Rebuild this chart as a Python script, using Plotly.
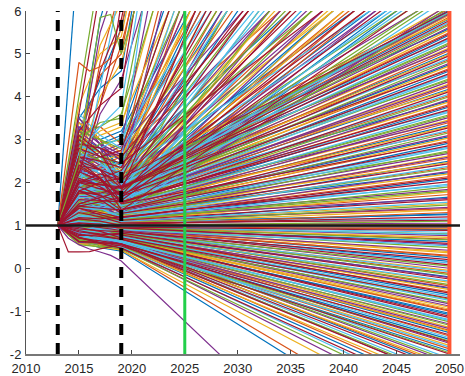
import plotly.graph_objects as go

# ---------------- data ----------------
years_main = [2013, 2015, 2017, 2019, 2050]

# group falling below -2 before 2050
fall_2015 = [0.62,0.70,0.58,0.75,0.66,0.80,0.72,0.60,0.78,0.68, 0.82,0.74,0.85,0.70,0.88,0.79,0.65,0.90,0.76,0.84]
fall_2017 = [0.48,0.55,0.50,0.60,0.52,0.62,0.58,0.55,0.66,0.60, 0.70,0.62,0.72,0.64,0.75,0.68,0.58,0.78,0.70,0.72]
fall_2019 = [0.40,0.43,0.42,0.48,0.45,0.50,0.47,0.52,0.55,0.50, 0.58,0.54,0.60,0.57,0.62,0.60,0.56,0.64,0.62,0.66]
fall_2050 = [-4.4,-4.1,-3.6,-3.4,-3.2,-3.1,-3.0,-2.9,-2.8,-2.7, -2.6,-2.55,-2.5,-2.4,-2.35,-2.3,-2.25,-2.2,-2.15,-2.1]

# group ending between -2 and 1 in 2050
low_2015 = [0.72,0.65,0.80,0.58,0.75,0.68,0.85,0.62,0.78,0.70,
            0.82,0.66,0.88,0.74,0.79,0.92,0.71,0.84,0.77,0.90,
            0.86,0.95,0.80,0.88,0.93,0.83,0.97,0.89,0.76,0.94,
            0.91,1.05,0.87,0.96,1.10,0.92,0.99,0.85,1.02,0.95,
            1.08,0.93,1.00,1.15,0.96,1.04,0.90,1.12,0.98,1.06,
            1.10,0.95,1.20,1.02,0.92,1.08,1.15,0.97,1.05,1.25]
low_2017 = [0.60,0.55,0.68,0.57,0.66,0.58,0.72,0.60,0.70,0.64,
            0.72,0.63,0.78,0.68,0.74,0.80,0.69,0.76,0.73,0.82,
            0.80,0.86,0.75,0.82,0.85,0.80,0.90,0.84,0.78,0.88,
            0.87,0.97,0.84,0.90,1.02,0.88,0.95,0.86,0.98,0.92,
            1.02,0.92,0.98,1.08,0.95,1.00,0.93,1.06,0.97,1.03,
            1.05,0.96,1.12,1.00,0.94,1.06,1.10,0.98,1.04,1.18]
low_2019 = [0.52,0.48,0.55,0.53,0.58,0.51,0.60,0.56,0.62,0.57,
            0.63,0.60,0.66,0.62,0.68,0.65,0.70,0.66,0.72,0.69,
            0.74,0.71,0.77,0.73,0.78,0.76,0.80,0.77,0.82,0.79,
            0.84,0.81,0.86,0.83,0.88,0.85,0.90,0.87,0.91,0.89,
            0.93,0.90,0.94,0.92,0.96,0.93,0.97,0.95,0.98,0.96,
            0.99,0.97,1.00,0.98,1.01,0.99,1.00,1.02,0.98,1.03]
low_2050 = [-2.0,-1.93,-1.88,-1.8,-1.75,-1.7,-1.62,-1.55,-1.5,-1.45,
            -1.38,-1.3,-1.25,-1.2,-1.12,-1.05,-1.0,-0.95,-0.88,-0.8,
            -0.75,-0.7,-0.62,-0.55,-0.5,-0.45,-0.38,-0.3,-0.25,-0.2,
            -0.12,-0.05,0.0,0.05,0.12,0.2,0.25,0.3,0.36,0.42,
            0.48,0.52,0.58,0.62,0.68,0.72,0.76,0.8,0.84,0.88,
            0.9,0.92,0.94,0.96,0.97,0.98,0.99,1.0,1.01,1.02]

# second batch ending between -2 and 1
low2_2015 = [0.55,0.78,0.63,0.90,0.70,0.83,0.60,0.95,0.74,0.88,
             0.65,1.00,0.80,0.92,0.70,1.05,0.85,0.78,1.10,0.90,
             0.82,1.12,0.95,1.00,0.88,1.15,1.02,0.93,1.18,1.08]
low2_2017 = [0.50,0.66,0.60,0.75,0.65,0.72,0.58,0.82,0.70,0.78,
             0.64,0.86,0.74,0.82,0.73,0.90,0.80,0.76,0.95,0.85,
             0.80,0.98,0.90,0.95,0.88,1.02,0.98,0.94,1.08,1.02]
low2_2019 = [0.50,0.54,0.57,0.55,0.60,0.61,0.58,0.64,0.63,0.67,
             0.66,0.70,0.68,0.72,0.75,0.73,0.78,0.76,0.81,0.80,
             0.83,0.85,0.84,0.88,0.87,0.90,0.92,0.94,0.95,0.97]
low2_2050 = [-1.97,-1.84,-1.72,-1.66,-1.58,-1.47,-1.41,-1.33,-1.22,-1.15,
             -1.08,-0.98,-0.91,-0.83,-0.72,-0.66,-0.58,-0.47,-0.41,-0.33,
             -0.22,-0.15,-0.08,0.08,0.16,0.28,0.39,0.55,0.66,0.79]

# group ending between 1 and 6 in 2050
mid_2015 = [1.10,0.95,1.20,1.05,1.30,1.00,1.15,1.35,1.08,1.25,
            1.40,1.10,1.22,1.50,1.15,1.30,1.60,1.18,1.45,1.28,
            1.35,1.70,1.20,1.50,1.80,1.30,1.55,1.40,2.00,1.25,
            1.60,1.45,2.20,1.35,1.75,1.50,1.90,1.40,2.40,1.65,
            1.55,2.10,1.45,1.85,2.50,1.60,1.95,1.50,2.30,1.70,
            2.00,1.60,2.60,1.75,2.20,1.55,2.80,1.90,1.65,2.35,
            1.80,2.50,1.70,2.10,3.00,1.85,2.25,1.60,2.70,1.95,
            2.30,1.75,2.90,2.05,1.90,2.60,1.70,3.20,2.15,1.85,
            2.50,2.00,3.40,1.90,2.20,2.75,1.80,2.40,3.10,2.10]
mid_2017 = [1.05,1.02,1.12,0.98,1.18,1.04,1.10,1.25,1.00,1.15,
            1.25,1.05,1.20,1.35,1.10,1.22,1.40,1.15,1.30,1.24,
            1.30,1.50,1.18,1.40,1.60,1.26,1.45,1.32,1.75,1.22,
            1.50,1.40,1.90,1.35,1.60,1.45,1.70,1.38,2.10,1.55,
            1.48,1.90,1.42,1.70,2.20,1.58,1.80,1.50,2.00,1.62,
            1.80,1.58,2.30,1.70,2.00,1.60,2.50,1.82,1.64,2.10,
            1.75,2.20,1.70,1.95,2.70,1.82,2.05,1.68,2.40,1.90,
            2.10,1.80,2.60,1.95,1.85,2.35,1.76,2.80,2.00,1.90,
            2.30,1.98,3.00,1.95,2.10,2.50,1.90,2.30,2.70,2.15]
mid_2019 = [1.02,0.99,1.05,1.03,1.08,1.01,1.06,1.10,1.04,1.09,
            1.12,1.07,1.14,1.10,1.18,1.11,1.16,1.20,1.13,1.19,
            1.22,1.17,1.25,1.20,1.28,1.22,1.30,1.24,1.34,1.27,
            1.30,1.36,1.28,1.38,1.33,1.42,1.35,1.40,1.37,1.46,
            1.40,1.48,1.43,1.50,1.45,1.55,1.47,1.52,1.58,1.50,
            1.55,1.60,1.52,1.63,1.58,1.66,1.60,1.70,1.62,1.68,
            1.65,1.72,1.67,1.75,1.70,1.78,1.72,1.80,1.74,1.82,
            1.76,1.84,1.78,1.86,1.80,1.90,1.83,1.88,1.85,1.95,
            1.87,1.92,1.90,2.00,1.93,2.05,1.96,2.10,2.00,2.20]
mid_2050 = [1.05,1.1,1.15,1.2,1.25,1.3,1.36,1.42,1.48,1.54,
            1.6,1.66,1.72,1.78,1.84,1.9,1.96,2.02,2.08,2.14,
            2.2,2.26,2.32,2.38,2.44,2.5,2.56,2.62,2.68,2.74,
            2.8,2.86,2.92,2.98,3.04,3.1,3.16,3.22,3.28,3.34,
            3.4,3.46,3.52,3.58,3.64,3.7,3.76,3.82,3.88,3.94,
            4.0,4.06,4.12,4.18,4.24,4.3,4.36,4.42,4.48,4.54,
            4.6,4.66,4.72,4.78,4.84,4.9,4.96,5.02,5.08,5.14,
            5.2,5.26,5.32,5.38,5.44,5.5,5.56,5.62,5.68,5.74,
            5.78,5.82,5.86,5.9,5.93,5.96,5.98,6.0,6.02,6.05]

# second batch ending between 1 and 6
mid2_2015 = [1.3,1.0,1.5,1.2,1.7,1.1,1.9,1.4,2.1,1.3,
             1.6,2.3,1.5,1.8,2.5,1.45,2.0,1.7,2.7,1.6,
             2.2,1.8,2.4,1.5,2.9,1.9,2.6,1.7,3.1,2.1,
             2.4,1.8,3.3,2.2,2.7,2.0,3.5,2.3,2.9,2.6]
mid2_2017 = [1.2,1.02,1.35,1.15,1.5,1.12,1.6,1.3,1.75,1.28,
             1.5,1.95,1.48,1.6,2.1,1.45,1.8,1.6,2.3,1.55,
             1.95,1.7,2.1,1.55,2.5,1.8,2.3,1.7,2.7,1.95,
             2.2,1.8,2.9,2.05,2.45,1.95,3.0,2.15,2.6,2.3]
mid2_2019 = [1.06,1.03,1.12,1.08,1.2,1.14,1.27,1.18,1.32,1.25,
             1.38,1.3,1.44,1.36,1.5,1.4,1.56,1.45,1.6,1.5,
             1.66,1.55,1.72,1.6,1.78,1.65,1.84,1.7,1.9,1.76,
             1.95,1.8,2.02,1.86,2.1,1.9,2.18,1.95,2.25,2.02]
mid2_2050 = [1.12,1.27,1.39,1.51,1.63,1.81,1.93,2.11,2.23,2.35,
             2.47,2.59,2.71,2.83,2.95,3.07,3.19,3.31,3.43,3.55,
             3.67,3.79,3.91,4.03,4.15,4.27,4.39,4.51,4.63,4.75,
             4.87,4.99,5.11,5.23,5.35,5.47,5.59,5.71,5.83,5.95]

# group leaving the top edge between 2019 and 2050
high_2015 = [1.6,2.2,1.4,2.6,1.5,2.9,1.3,2.4,1.8,3.1,
             1.35,2.0,2.8,1.6,2.5,3.3,1.45,2.1,2.9,1.7,
             2.7,3.4,1.5,2.3,3.6,1.8,2.9,3.2,2.0,3.5,
             2.6,1.9,3.0,2.4,2.2,2.8,2.5,3.0,2.7,3.2,
             3.5,3.0,3.8,1.4,1.5,2.0,2.8,1.3,3.2,1.25,
             2.4,1.4,2.6,1.5,3.4,1.7,2.8,1.9,3.1,2.2]
high_2017 = [1.7,2.0,1.55,2.3,1.65,2.5,1.5,2.6,1.85,2.7,
             1.45,2.2,2.6,1.7,2.3,2.9,1.6,2.4,2.8,1.9,
             2.5,3.0,1.7,2.6,3.1,2.0,2.7,3.3,2.1,2.9,
             2.9,2.2,2.6,2.9,2.4,3.1,2.7,3.4,3.3,3.8,
             4.2,4.5,5.0,1.5,1.6,2.1,2.6,1.4,3.0,1.35,
             2.6,1.55,2.8,1.65,3.0,1.8,3.2,2.0,3.3,2.3]
high_2019 = [1.85,1.9,1.75,2.0,1.8,2.1,1.7,2.2,1.95,2.3,
             1.6,2.05,2.4,1.85,2.15,2.5,1.75,2.25,2.6,2.0,
             2.35,2.7,1.9,2.45,2.8,2.1,2.55,2.9,2.25,2.65,
             3.0,2.4,2.75,3.1,2.6,3.3,2.9,3.5,3.8,4.2,
             4.6,5.0,5.4,1.65,1.7,2.25,2.45,1.55,2.7,1.5,
             2.85,1.65,3.05,1.8,3.2,2.0,3.4,2.2,3.6,2.5]
high_2050 = [6.14,6.44,6.82,6.96,7.46,7.6,8.05,8.09,8.56,8.67,
             9.62,9.47,9.38,10.43,10.38,10.25,11.88,11.55,11.38,13.27,
             13.13,12.93,15.28,14.68,14.47,17.21,16.81,16.63,20.13,19.96,
             19.9,24.72,25.14,25.58,32.71,31.2,41.34,42.25,49.27,50.7,
             48.0,43.75,42.6,7.27,6.64,7.2,8.24,8.45,9.52,11.46,
             11.34,15.14,14.48,20.4,16.55,24.55,21.31,33.2,28.4,56.75]

# second batch leaving the top edge
high2_2015 = [1.5,1.2,1.9,1.3,2.1,1.4,1.8,2.4,1.6,2.0,
              1.15,1.7,1.35,2.3,1.55,2.6,1.75,2.2,1.9,2.8,
              1.6,1.25,1.9,1.45,2.5,1.7,2.2,1.8,2.9,2.0,
              2.6,2.3,3.0,2.4,1.4,1.75,1.3,2.1,1.5,2.5,
              1.7,2.7,1.9,2.4,2.0,3.1,2.2,2.8,2.5,3.2]
high2_2017 = [1.35,1.25,1.7,1.35,1.8,1.45,1.7,2.1,1.6,1.85,
              1.2,1.6,1.45,2.0,1.6,2.2,1.75,2.0,1.95,2.5,
              1.5,1.35,1.75,1.55,2.2,1.8,2.1,1.9,2.6,2.1,
              2.5,2.4,2.8,2.5,1.35,1.6,1.4,1.9,1.6,2.2,
              1.8,2.4,2.0,2.3,2.1,2.8,2.3,2.7,2.6,3.0]
high2_2019 = [1.25,1.3,1.35,1.4,1.45,1.5,1.55,1.6,1.65,1.7,
              1.3,1.4,1.5,1.6,1.7,1.8,1.9,2.0,2.1,2.2,
              1.35,1.45,1.55,1.65,1.75,1.85,1.95,2.05,2.15,2.25,
              2.35,2.45,2.55,2.65,1.28,1.38,1.48,1.58,1.68,1.78,
              1.88,1.98,2.08,2.18,2.28,2.38,2.48,2.58,2.68,2.78]
high2_2050 = [6.1,6.32,6.69,7.1,7.58,8.14,8.81,9.18,9.58,10.03,
              6.9,7.88,8.48,10.69,11.22,11.82,12.49,14.4,15.53,16.93,
              7.35,6.49,6.96,7.78,8.34,9.0,9.8,10.8,12.1,13.88,
              15.66,18.17,20.38,23.42,6.16,6.41,6.77,7.17,7.38,7.86,
              8.43,9.1,9.92,10.95,12.31,14.19,17.03,18.89,21.39,24.96]

# group leaving the top edge before 2019
early_2015 = [3.6,2.8,2.2,3.0,2.5,4.0,1.8,2.6,3.2,2.0,2.4,1.9]
early_2017 = [6.5,5.8,4.8,5.2,5.5,7.0,4.2,4.6,4.4,3.8,4.0,3.6]
early_2019 = [8.0,7.5,6.6,6.2,7.0,9.0,6.8,5.8,5.6,5.2,4.8,4.4]
early_2050 = [40,40,40,40,45,50,45,42,38,35,35,30]

# individually traced curves (yearly values)
blue_years = [2013, 2014, 2015]
blue_vals = [1.0, 4.3, 7.7]
orange_years = [2013, 2014, 2015, 2016, 2017, 2018, 2019, 2050]
orange_vals = [1.0, 2.9, 4.8, 4.6, 4.7, 4.9, 5.6, 45.0]
green_years = [2013, 2015, 2016, 2017, 2018, 2019, 2050]
green_vals = [1.0, 2.5, 4.2, 5.85, 5.92, 5.0, 30.0]
purple_years = [2013, 2014, 2015, 2016, 2017, 2018, 2019, 2050]
purple_vals = [1.0, 0.7, 0.55, 0.45, 0.38, 0.3, 0.17, -7.1]
red_years = [2013, 2014, 2015, 2016, 2017, 2018, 2019, 2050]
red_vals = [1.0, 0.38, 0.38, 0.39, 0.45, 0.5, 0.55, -2.6]
darkred_years = [2013, 2015, 2017, 2018.4, 2019.2]
darkred_vals = [1.0, 2.2, 3.8, 5.25, 6.5]

x_ticks = [2010, 2015, 2020, 2025, 2030, 2035, 2040, 2045, 2050]
y_ticks = [-2, -1, 0, 1, 2, 3, 4, 5, 6]
y_tick_text = ['-2', '-1', '0', '1', '2', '3', '4', '5', '6']
marker_years = {'dash1': 2013, 'dash2': 2019, 'green': 2025, 'red': 2050}
baseline = 1

# ---------------- figure ----------------
palette = ['#0072BD', '#D95319', '#EDB120', '#7E2F8E', '#77AC30', '#4DBEEE', '#A2142F']

v15 = fall_2015 + low_2015 + mid_2015 + high_2015 + early_2015 + low2_2015 + mid2_2015 + high2_2015
v17 = fall_2017 + low_2017 + mid_2017 + high_2017 + early_2017 + low2_2017 + mid2_2017 + high2_2017
v19 = fall_2019 + low_2019 + mid_2019 + high_2019 + early_2019 + low2_2019 + mid2_2019 + high2_2019
v50 = fall_2050 + low_2050 + mid_2050 + high_2050 + early_2050 + low2_2050 + mid2_2050 + high2_2050

xs = {c: [] for c in palette}
ys = {c: [] for c in palette}
for i, (a, b, c, d) in enumerate(zip(v15, v17, v19, v50)):
    col = palette[i % 7]
    xs[col] += years_main + [None]
    ys[col] += [1.0, a, b, c, d, None]

LW = 1.2
fig = go.Figure()
for col in palette:
    fig.add_trace(go.Scatter(x=xs[col], y=ys[col], mode='lines',
                             line=dict(color=col, width=LW), hoverinfo='skip',
                             showlegend=False))

for yrs, vals, col in [(blue_years, blue_vals, palette[0]),
                       (orange_years, orange_vals, palette[1]),
                       (green_years, green_vals, palette[4]),
                       (purple_years, purple_vals, palette[3]),
                       (red_years, red_vals, palette[6]),
                       (darkred_years, darkred_vals, palette[6])]:
    fig.add_trace(go.Scatter(x=yrs, y=vals, mode='lines',
                             line=dict(color=col, width=LW), hoverinfo='skip',
                             showlegend=False))

# reference lines
for key in ('dash1', 'dash2'):
    fig.add_shape(type='line', xref='x', yref='paper', x0=marker_years[key], x1=marker_years[key],
                  y0=0, y1=1, line=dict(color='black', width=4, dash='11px,8px'))
fig.add_shape(type='line', xref='x', yref='paper', x0=marker_years['green'], x1=marker_years['green'],
              y0=0, y1=1, line=dict(color='#22CF4A', width=3))
fig.add_shape(type='line', xref='x', yref='paper', x0=marker_years['red'], x1=marker_years['red'],
              y0=0, y1=1, line=dict(color='#FF5533', width=4))
fig.add_shape(type='line', xref='paper', yref='y', x0=0, x1=1, y0=baseline, y1=baseline,
              line=dict(color='#1a1a1a', width=2.5))

axis_font = dict(family='Liberation Sans, Arial, sans-serif', size=13, color='#262626')
fig.update_layout(
    width=465, height=376,
    margin=dict(l=26, r=5, t=11, b=22, autoexpand=False),
    paper_bgcolor='white', plot_bgcolor='white',
    xaxis=dict(range=[2010, 2051], tickvals=x_ticks, ticks='inside', ticklen=4,
               tickcolor='#444', showline=True, linecolor='#777', linewidth=1.5,
               showgrid=False, zeroline=False, tickfont=axis_font, ticklabelstandoff=2,
               automargin=False, ticklabeloverflow='allow'),
    yaxis=dict(range=[-2, 6], tickvals=y_ticks, ticktext=y_tick_text, ticks='inside',
               ticklen=4, tickcolor='#444', showline=True, linecolor='#555', linewidth=1,
               showgrid=False, zeroline=False, tickfont=axis_font, ticklabelstandoff=1,
               automargin=False, ticklabeloverflow='allow'),
)

fig.write_html('out.html')
